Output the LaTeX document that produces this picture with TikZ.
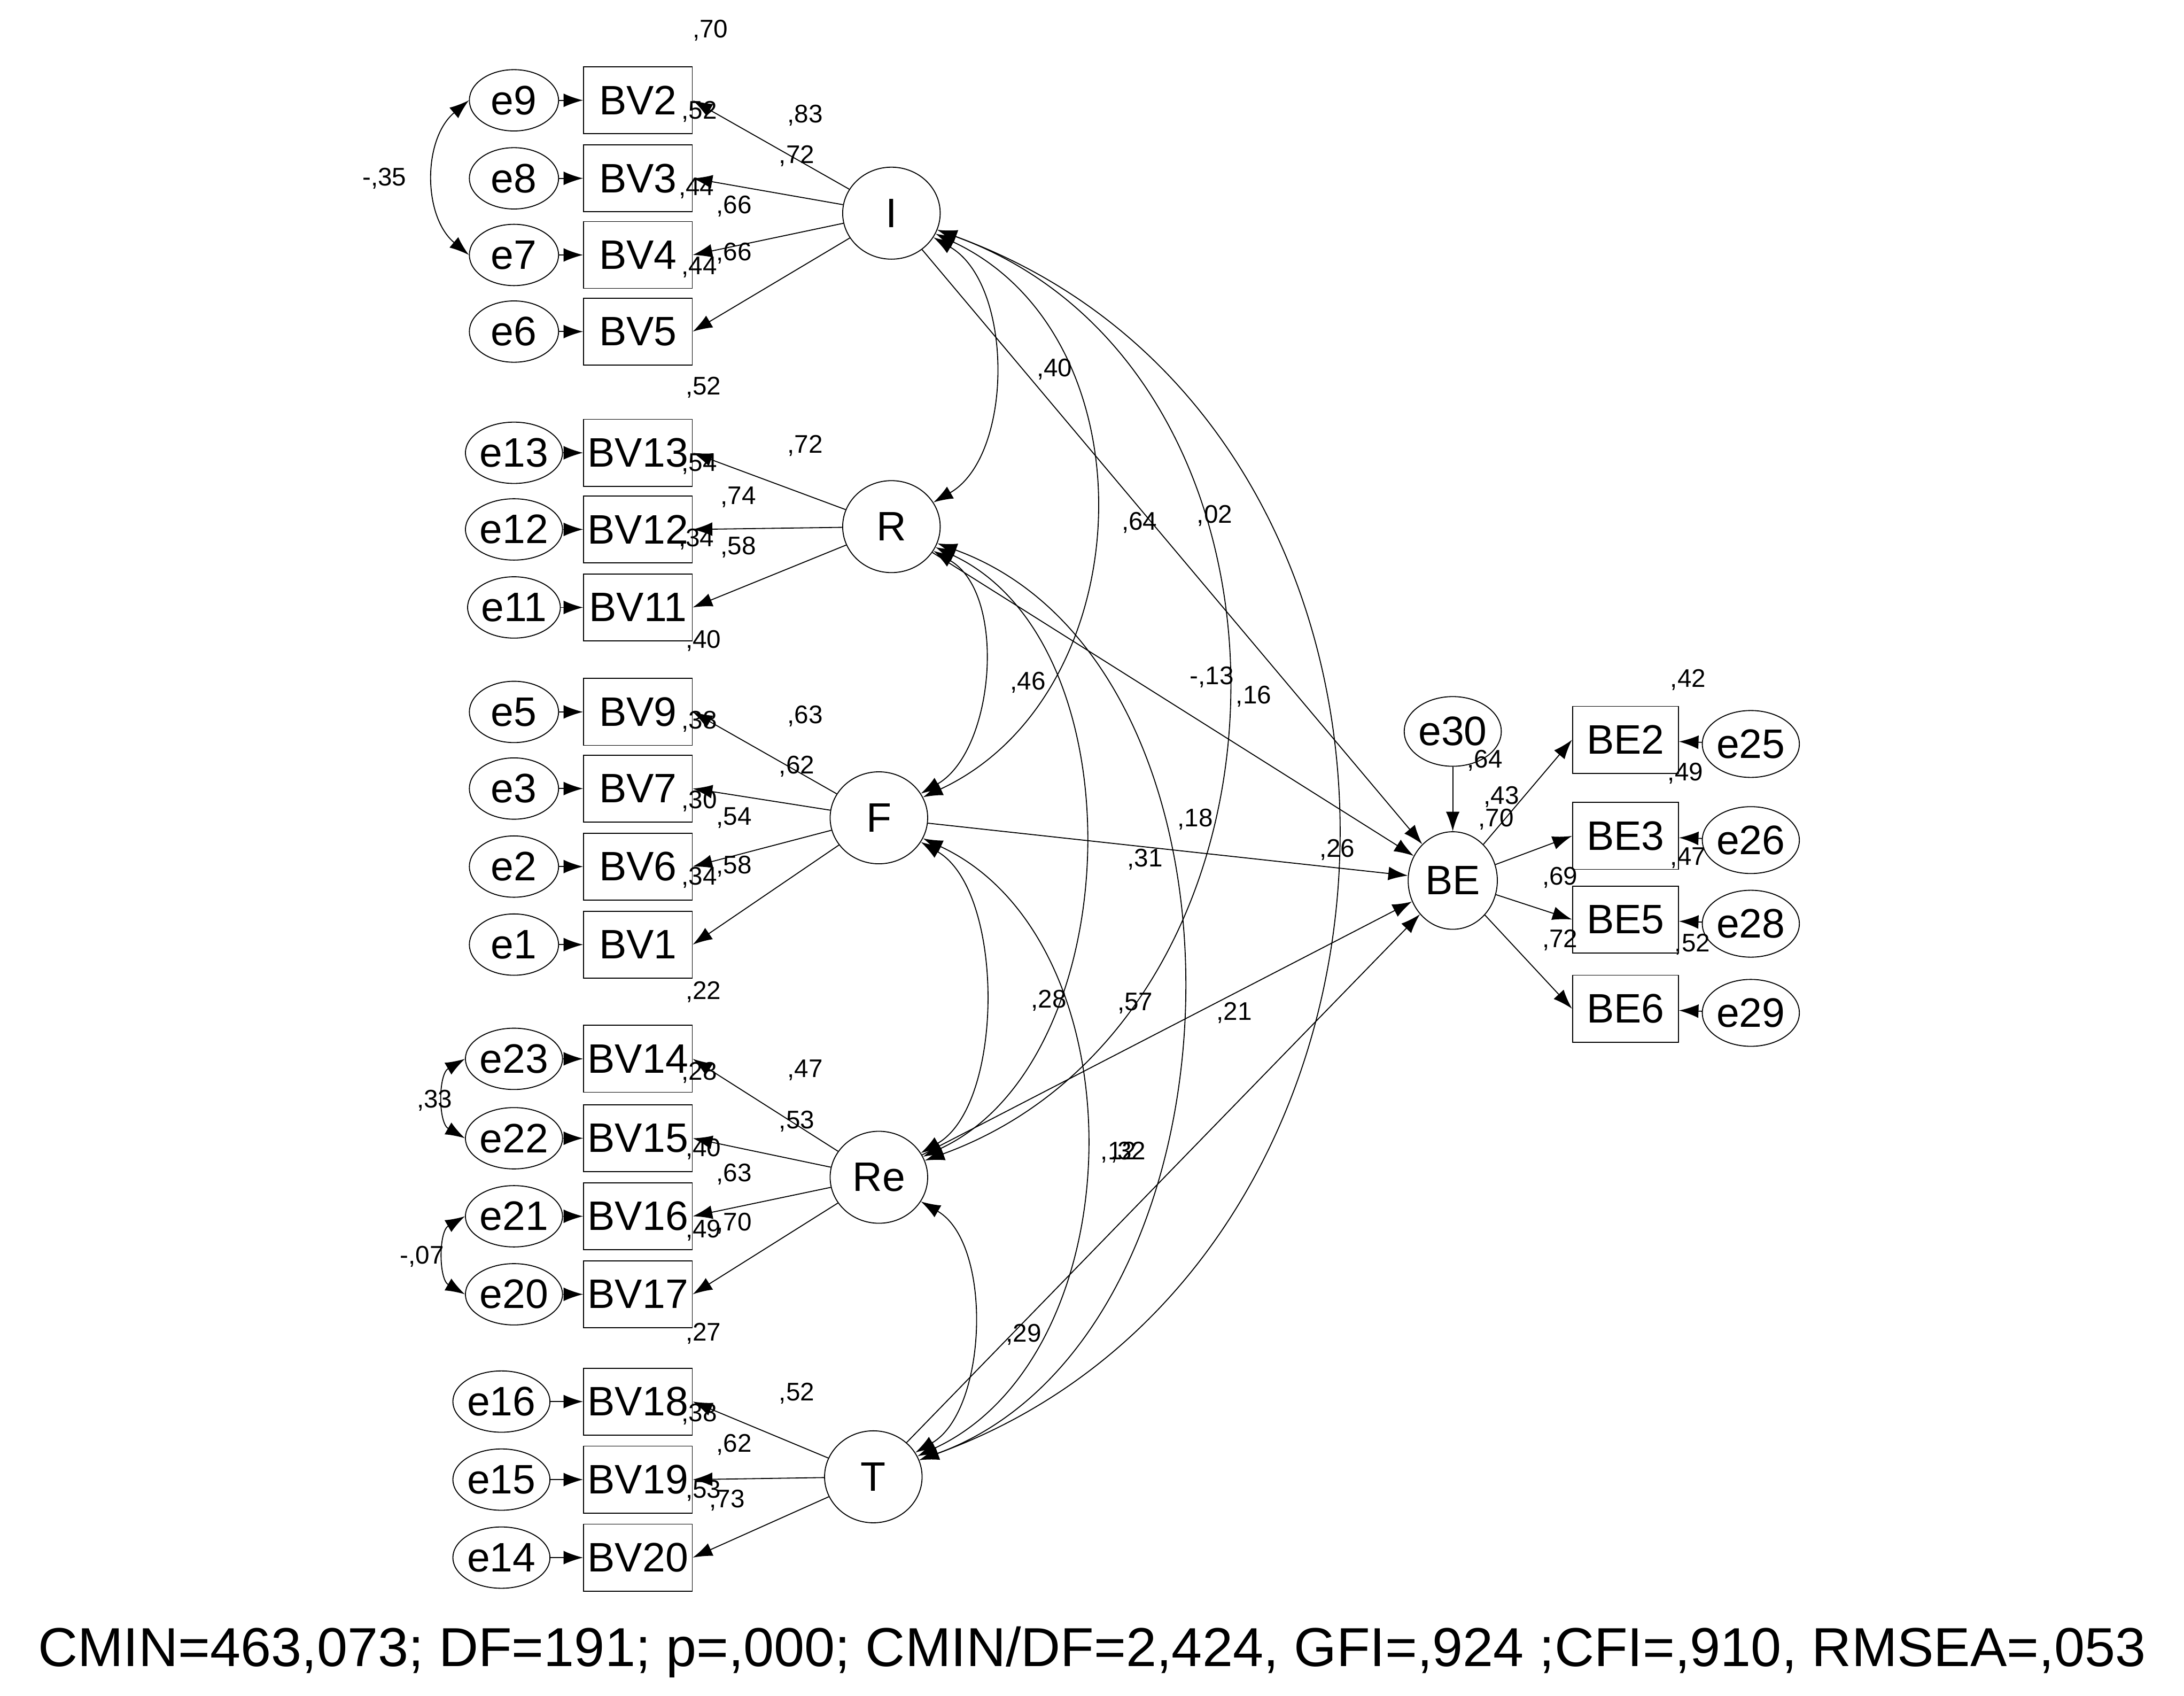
\documentclass[tikz,border=0pt]{standalone}
\usepackage{fontspec}
\setmainfont{Liberation Sans}
\usetikzlibrary{shapes.geometric,arrows.meta}
\begin{document}
\begin{tikzpicture}[x=0.025cm,y=-0.025cm,
  every node/.style={inner sep=0pt},
  box/.style={draw,line width=0.5pt,minimum width=1.95cm,minimum height=1.2cm,font=\fontsize{21}{21}\selectfont},
  err/.style={draw,ellipse,line width=0.5pt,minimum width=1.6cm,minimum height=1.1cm,font=\fontsize{21}{21}\selectfont},
  lat/.style={draw,ellipse,line width=0.5pt,minimum width=1.75cm,minimum height=1.65cm,font=\fontsize{21}{21}\selectfont},
  lbl/.style={font=\fontsize{13}{13}\selectfont},
  ar/.style={line width=0.5pt,-{Latex[length=10pt,width=7pt]}},
  dar/.style={line width=0.5pt,{Latex[length=10pt,width=7pt]}-{Latex[length=10pt,width=7pt]}}]
\useasboundingbox (0,0) rectangle (1568,1217);
% latent
\node[lat] (I) at (640,153) {I};
\node[lat] (R) at (640,378) {R};
\node[lat] (F) at (631,587) {F};
\node[lat] (Re) at (631,845) {Re};
\node[lat] (T) at (627,1060) {T};
\node[lat,minimum width=1.6cm,minimum height=1.75cm] (BE) at (1043,632) {BE};
\node[err,minimum width=1.5cm,minimum height=1.25cm] (e30) at (1043,525) {e30};
% observed left
\foreach \n/\e/\y/\ex in {BV2/e9/72/369,BV3/e8/128/369,BV4/e7/183/369,BV5/e6/238/369,
  BV13/e13/325/369,BV12/e12/380/369,BV11/e11/436/369,
  BV9/e5/511/369,BV7/e3/566/369,BV6/e2/622/369,BV1/e1/678/369,
  BV14/e23/760/369,BV15/e22/817/369,BV16/e21/873/369,BV17/e20/929/369,
  BV18/e16/1006/360,BV19/e15/1062/360,BV20/e14/1118/360}{
  \node[box] (\n) at (458,\y) {\n};
  \node[err] (\e) at (\ex,\y) {\e};
  \draw[ar] (\e) -- (\n);
}
\foreach \l/\n in {I/BV2,I/BV3,I/BV4,I/BV5,R/BV13,R/BV12,R/BV11,F/BV9,F/BV7,F/BV6,F/BV1,Re/BV14,Re/BV15,Re/BV16,Re/BV17,T/BV18,T/BV19,T/BV20}
  \draw[ar] (\l) -- (\n.east);
% right side
\foreach \n/\e/\y in {BE2/e25/531,BE3/e26/600,BE5/e28/660,BE6/e29/724}{
  \node[box,minimum width=1.9cm] (\n) at (1167,\y) {\n};
  \node[err,minimum width=1.55cm,minimum height=1.2cm] (\e) at (1257,\y+3) {\e};
  \draw[ar] (\e) -- (\n);
  \draw[ar] (BE) -- (\n.west);
}
\draw[ar] (e30) -- (BE);
\foreach \l in {I,R,F,Re,T} \draw[ar] (\l) -- (BE);
% covariances
\draw[dar] (I) to[out=-30,in=30,looseness=0.9] (R);
\draw[dar] (I) to[out=-25,in=25,looseness=1.1] (F);
\draw[dar] (I) to[out=-20,in=20,looseness=1.15] (Re);
\draw[dar] (I) to[out=-20,in=20,looseness=1.2] (T);
\draw[dar] (R) to[out=-30,in=30,looseness=0.9] (F);
\draw[dar] (R) to[out=-25,in=25,looseness=0.95] (Re);
\draw[dar] (R) to[out=-20,in=20,looseness=1.0] (T);
\draw[dar] (F) to[out=-30,in=30,looseness=0.8] (Re);
\draw[dar] (F) to[out=-25,in=25,looseness=1.0] (T);
\draw[dar] (Re) to[out=-30,in=30,looseness=0.85] (T);
\draw[dar] (e9.west) to[bend right=50] (e7.west);
\draw[dar] (e23.west) to[bend right=60] (e22.west);
\draw[dar] (e21.west) to[bend right=60] (e20.west);
% labels
\foreach \t/\x/\y in {{,70}/510/22,{,83}/578/83,{,52}/502/80,{,72}/572/112,{,44}/500/135,{,66}/527/148,{,66}/527/182,{,44}/502/192,
 {,52}/505/278,{,72}/578/320,{,54}/502/333,{,74}/530/357,{,34}/500/387,{,58}/530/393,{,40}/505/460,
 {,63}/578/514,{,38}/502/518,{,62}/572/550,{,30}/502/575,{,54}/527/587,{,34}/502/630,{,58}/527/622,
 {,22}/505/712,{,47}/578/768,{,28}/502/770,{,53}/572/805,{,40}/505/825,{,63}/527/843,{,49}/505/883,{,70}/527/878,
 {,27}/505/957,{,52}/572/1000,{,38}/502/1015,{,62}/527/1037,{,53}/505/1070,{,73}/522/1077,
 {,40}/757/265,{,64}/818/375,{,02}/872/370,{-,13}/870/486,{,16}/900/500,{,46}/738/490,{,18}/858/588,{,31}/822/617,
 {,26}/960/610,{,28}/753/718,{,57}/815/720,{,21}/886/727,{,12}/803/827,{,32}/810/827,{,29}/735/958,
 {,42}/1212/488,{,64}/1066/546,{,43}/1078/572,{,70}/1074/588,{,49}/1210/555,{,47}/1212/616,{,69}/1120/630,{,72}/1120/675,{,52}/1215/678,
 {-,35}/276/128,{,33}/312/790,{-,07}/303/902}
  \node[lbl] at (\x,\y) {\t};
\node[font=\fontsize{28}{28}\selectfont] (fit) at (784,1186) {CMIN=463,073; DF=191; p=,000; CMIN/DF=2,424, GFI=,924 ;CFI=,910, RMSEA=,053};
\end{tikzpicture}
\end{document}
